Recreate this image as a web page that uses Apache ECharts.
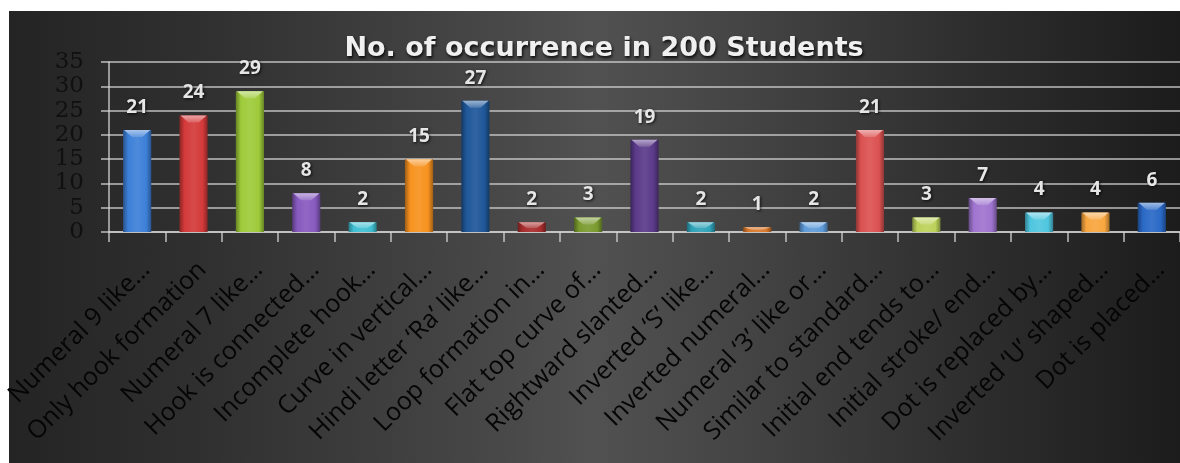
<!DOCTYPE html>
<html>
<head>
<meta charset="utf-8">
<script src="https://cdn.jsdelivr.net/npm/echarts@6/dist/echarts.min.js"></script>
<style>
  html, body { margin: 0; padding: 0; background: #ffffff; }
  #wrap { position: relative; width: 1180px; height: 463px; background: #ffffff; overflow: hidden; }
  #bg {
    position: absolute; left: 9px; top: 11px; right: 0; bottom: 0;
    background: linear-gradient(90deg, #242424 0%, #313131 18%, #444444 38%, #515151 50%, #454545 62%, #2e2e2e 82%, #1c1c1c 100%);
  }
  #chart { position: absolute; left: 0; top: 0; width: 1180px; height: 463px; }
</style>
</head>
<body>
<div id="wrap">
  <div id="bg"></div>
  <div id="chart"></div>
</div>
<script>
// Occurrence counts of each writing feature among 200 students
const categories = [
  'Numeral 9 like…',
  'Only hook formation',
  'Numeral 7 like…',
  'Hook is connected…',
  'Incomplete hook…',
  'Curve in vertical…',
  'Hindi letter ‘Ra’ like…',
  'Loop formation in…',
  'Flat top curve of…',
  'Rightward slanted…',
  'Inverted ‘S’ like…',
  'Inverted numeral…',
  'Numeral ‘3’ like or…',
  'Similar to standard…',
  'Initial end tends to…',
  'Initial stroke/ end…',
  'Dot is replaced by…',
  'Inverted ‘U’ shaped…',
  'Dot is placed…'
];
const occurrences = [21, 24, 29, 8, 2, 15, 27, 2, 3, 19, 2, 1, 2, 21, 3, 7, 4, 4, 6];
const barColors = [
  '#3d80d8', '#d43a3a', '#9ecb3a', '#875abf', '#3fc0d2', '#f7921f',
  '#1f5799', '#a82d2d', '#7a9b2f', '#5b3a8a', '#2fa3b8', '#d9782a',
  '#5e9bd9', '#dc5252', '#bcd25a', '#9f74cf', '#4fc6df', '#f8a63f', '#2a69c6'
];
const yTicks = { min: 0, max: 35, interval: 5 };
const chartTitle = 'No. of occurrence in 200 Students';

function hexToRgb(h) {
  const n = parseInt(h.slice(1), 16);
  return [(n >> 16) & 255, (n >> 8) & 255, n & 255];
}
function mix(h, target, t) {
  const c = hexToRgb(h);
  const r = c.map(v => Math.round(v + (target - v) * t));
  return 'rgb(' + r.join(',') + ')';
}

const chart = echarts.init(document.getElementById('chart'), null, { renderer: 'canvas' });

const barData = occurrences.map((v, i) => ({
  value: v,
  itemStyle: {
    color: new echarts.graphic.LinearGradient(0, 0, 1, 0, [
      { offset: 0, color: mix(barColors[i], 0, 0.35) },
      { offset: 0.18, color: barColors[i] },
      { offset: 0.5, color: mix(barColors[i], 255, 0.08) },
      { offset: 0.82, color: barColors[i] },
      { offset: 1, color: mix(barColors[i], 0, 0.35) }
    ])
  }
}));

const bevelData = occurrences.map((v, i) => [i, v]);

const gridColor = 'rgba(215,215,215,0.85)';

chart.setOption({
  backgroundColor: 'transparent',
  animation: false,
  title: {
    text: chartTitle,
    left: 599,
    top: 30,
    textAlign: 'center',
    textStyle: {
      fontFamily: 'DejaVu Sans',
      fontWeight: 'bold',
      fontSize: 27,
      color: '#f0f0f0',
      textShadowColor: 'rgba(0,0,0,0.85)',
      textShadowBlur: 3,
      textShadowOffsetX: 1,
      textShadowOffsetY: 2
    }
  },
  grid: { left: 109, right: -7, top: 62, bottom: 231, containLabel: false },
  xAxis: {
    type: 'category',
    data: categories,
    boundaryGap: true,
    axisLine: { show: true, lineStyle: { color: gridColor, width: 1.5 } },
    axisTick: { show: true, alignWithLabel: false, length: 10, lineStyle: { color: gridColor, width: 1.5 } },
    axisLabel: {
      interval: 0,
      rotate: 45,
      margin: 25,
      verticalAlign: 'top',
      fontFamily: 'Open Sans',
      fontSize: 25,
      color: '#050505'
    },
    splitLine: { show: false }
  },
  yAxis: {
    type: 'value',
    min: yTicks.min,
    max: yTicks.max,
    interval: yTicks.interval,
    axisLine: { show: true, lineStyle: { color: gridColor, width: 1.5 } },
    axisTick: { show: true, length: 8, lineStyle: { color: gridColor, width: 1.5 } },
    axisLabel: {
      margin: 25,
      fontFamily: 'DejaVu Serif',
      fontSize: 23,
      color: '#101010'
    },
    splitLine: { show: true, lineStyle: { color: gridColor, width: 1.5 } }
  },
  series: [
    {
      type: 'bar',
      data: barData,
      barWidth: '50%',
      z: 2,
      label: {
        show: true,
        position: 'top',
        distance: 13,
        fontFamily: 'Open Sans',
        fontWeight: 'bold',
        fontSize: 19,
        color: '#e6e6e6',
        textShadowColor: 'rgba(0,0,0,0.8)',
        textShadowBlur: 3,
        textShadowOffsetX: 1,
        textShadowOffsetY: 1
      }
    },
    {
      // bevelled highlight on the top face of each bar
      type: 'custom',
      data: bevelData,
      encode: { x: 0, y: 1 },
      z: 3,
      silent: true,
      renderItem: function (params, api) {
        const idx = api.value(0);
        const v = api.value(1);
        const top = api.coord([idx, v]);
        const base = api.coord([idx, 0]);
        const band = api.size([1, 0])[0];
        const w = band * 0.5;
        const x0 = top[0] - w / 2;
        const h = base[1] - top[1];
        const depth = Math.min(7, h * 0.6);
        const c = barColors[params.dataIndex];
        return {
          type: 'polygon',
          shape: {
            points: [
              [x0 + 1, top[1]],
              [x0 + w - 1, top[1]],
              [x0 + w * 0.68, top[1] + depth],
              [x0 + w * 0.32, top[1] + depth]
            ]
          },
          style: {
            fill: new echarts.graphic.LinearGradient(0, 0, 0, 1, [
              { offset: 0, color: mix(c, 255, 0.55) },
              { offset: 1, color: mix(c, 255, 0.2) }
            ])
          }
        };
      }
    }
  ]
});
</script>
</body>
</html>
